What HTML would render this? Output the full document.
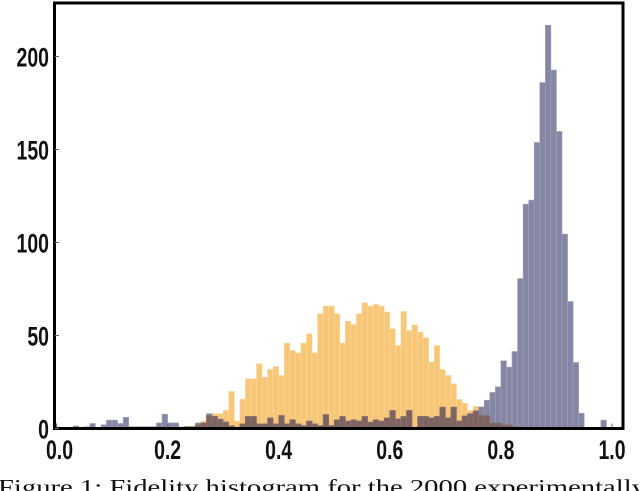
<!DOCTYPE html>
<html><head><meta charset="utf-8"><style>
html,body{margin:0;padding:0;background:#fff;width:640px;height:491px;overflow:hidden}
svg{display:block}
.tk{font-family:"Liberation Sans",sans-serif;font-size:27px;font-weight:bold;fill:#111}
.cap{font-family:"Liberation Serif",serif;font-size:21px;fill:#111}
</style></head><body>
<svg id="chart" width="640" height="491">
<g id="bars"></g>
<g id="axes"></g>
<text class="cap" x="-2" y="494" textLength="648" lengthAdjust="spacingAndGlyphs">Figure 1: Fidelity histogram for the 2000 experimentally</text>
</svg>
<script>
const binStarts = Array.from({length:100},(_, i)=>i/100);
const purpleCounts = [0,0,0,1.4,0,1,2.7,0,2,4.5,4.5,2.7,6,1,1,1,1,1,3,7.7,3,3,0.5,1,1,3,3,8,
6.5,5,3.5,1.5,0.7,2.5,6.5,6.5,2.5,2.5,5.7,2.5,7,2.5,4.7,2.5,1.6,4,2.5,1.6,7.5,1.6,4.7,6.5,4,4.7,4,6.5,3.4,4.7,4,5.7,9.7,5.2,6.5,9.7,0.7,6.5,6.5,5.7,6.5,11.5,5.7,11.5,4,6.8,8,
9.5,11.6,15.2,19.4,22.4,36.4,33,41.4,80.6,120.6,122.8,153.8,186,216.8,192.7,159.7,104.5,68.3,35.5,8.2,0.3,0.3,0.3,4.5];
const orangeCounts = [0,0,0,0,0,0,0,0,0,0,0,0,0,0,0,0,0,0,0,0,0,0,1,1,1,2,4,7,
8,8,9.7,19.9,4,15.8,26.7,26.7,34.8,27.6,31.7,33.3,28.5,45.9,41.9,40.7,45.9,50.9,40.7,61.7,65.8,65.8,61.7,45.9,57.7,55.9,61.7,67.6,65.8,66.7,65.8,62.6,53.6,44.6,62.9,52.7,55.7,51.8,48.8,35.7,44.6,31.7,28.5,24,15.6,13.6,9.7,11.8,
7,7,3,3,2,2,1,0,0,0,0,0,0,0,0,0,0,0,0,0,0,0,0,0,0];
const xTicks = [0,0.2,0.4,0.6,0.8,1.0];
const xTickLabels = ["0.0","0.2","0.4","0.6","0.8","1.0"];
const yTicks = [0,50,100,150,200];
const yTickLabels = ["0","50","100","150","200"];
const binWidth = 0.01;

const X0=56.5, XS=555.5, Y0=428.5, YS=1.86;
const xs = v => X0 + v*XS;
const ys = v => Y0 - v*YS;
const NS="http://www.w3.org/2000/svg";
function mk(tag, attrs, parent){const e=document.createElementNS(NS,tag);for(const k in attrs)e.setAttribute(k,attrs[k]);parent.appendChild(e);return e;}
const bars=document.getElementById('bars'), axes=document.getElementById('axes');
function bar(v0,h,fill,stroke){
  const x=xs(v0), w=xs(v0+binWidth)-x;
  return mk('rect',{x:x,y:ys(h),width:w,height:Math.max(0,Y0-ys(h)),fill:fill,stroke:stroke,'stroke-width':0.6},bars);
}
binStarts.forEach((b,i)=>{
  if(orangeCounts[i]>0){const r=bar(b,orangeCounts[i],'#f8c677','#fbd9a0');
  
  }
});
binStarts.forEach((b,i)=>{
  if(purpleCounts[i]>0){const r=bar(b,purpleCounts[i],'#8486a3','#a2a3b9');
  
  }
});
binStarts.forEach((b,i)=>{
  const m=Math.min(purpleCounts[i],orangeCounts[i]);
  if(m>0){const r=bar(b,m,'#7d6461','#8e7470');
  
  }
});
const fr=mk('rect',{x:54.5,y:3,width:568.5,height:Y0-3,fill:'none',stroke:'#000','stroke-width':3},axes);


xTicks.forEach((t,i)=>{
  const l=mk('line',{x1:xs(t),x2:xs(t),y1:Y0-1,y2:Y0-5,stroke:'#666','stroke-width':1},axes);
  
  
  const cx=xs(t)+(i===0?3:0);
  const tx=mk('text',{x:cx,y:459,'text-anchor':'middle',class:'tk',transform:`translate(${cx},0) scale(0.72,1) translate(${-cx},0)`},axes);
  tx.textContent=xTickLabels[i];
  
  
});
yTicks.forEach((t,i)=>{
  const l=mk('line',{x1:55,x2:59,y1:ys(t),y2:ys(t),stroke:'#666','stroke-width':1},axes);
  
  
  const tx=mk('text',{x:49,y:ys(t)+10,'text-anchor':'end',class:'tk',transform:`translate(49,0) scale(0.72,1) translate(-49,0)`},axes);
  tx.textContent=yTickLabels[i];
  
  
});
</script>
</body></html>
